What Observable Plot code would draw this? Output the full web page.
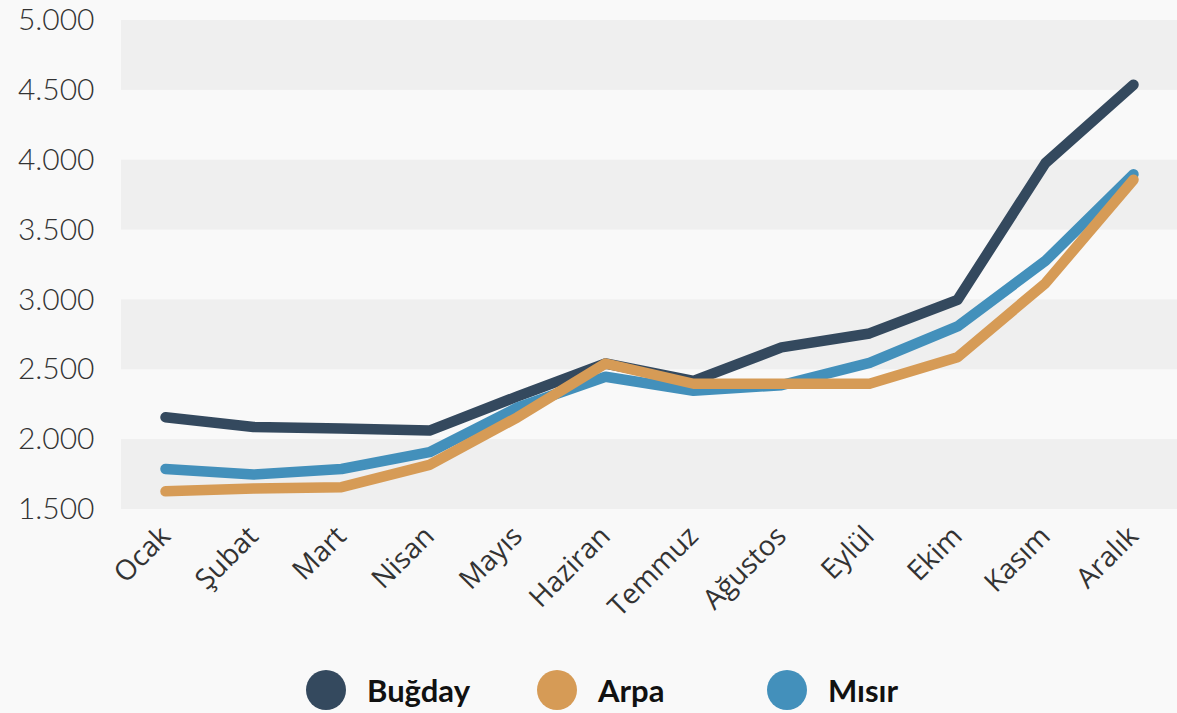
<!DOCTYPE html>
<html>
<head>
<meta charset="utf-8">
<script src="https://cdn.jsdelivr.net/npm/d3@7"></script>
<script src="https://cdn.jsdelivr.net/npm/@observablehq/plot@0.6"></script>
<style>
  html, body { margin: 0; padding: 0; background: #f9f9f9; }
  #chart { width: 1177px; height: 650px; }
  #legend { position: relative; width: 1177px; height: 63px; }
  .item { position: absolute; top: 20px; height: 40px; display: flex; align-items: center; }
  .dot { width: 40px; height: 40px; border-radius: 50%; }
  .lab { margin-left: 21px; font-family: Lato, sans-serif; font-weight: 700; font-size: 31px; color: #111; }
</style>
</head>
<body>
<div id="chart"></div>
<div id="legend"></div>
<script>
const months = ["Ocak","Şubat","Mart","Nisan","Mayıs","Haziran","Temmuz","Ağustos","Eylül","Ekim","Kasım","Aralık"];
const bugday = [2160,2090,2080,2065,2310,2545,2420,2660,2760,3000,3980,4540];
const arpa   = [1630,1650,1660,1820,2160,2545,2400,2400,2400,2590,3120,3860];
const misir  = [1790,1750,1790,1910,2230,2450,2350,2390,2550,2810,3280,3900];
const seriesNames = ["Buğday","Arpa","Mısır"];
const seriesColors = ["#34495e","#d69b56","#4390bb"];
const yTicks = [1500,2000,2500,3000,3500,4000,4500,5000];
const bandRanges = [[4500,5000],[3500,4000],[2500,3000],[1500,2000]];

const values = {"Buğday": bugday, "Arpa": arpa, "Mısır": misir};
const drawOrder = ["Buğday","Mısır","Arpa"];
const rows = [];
for (const s of drawOrder) months.forEach((m, i) => rows.push({series: s, month: m, value: values[s][i]}));
const bands = bandRanges.map(([a, b]) => ({y1: a, y2: b}));

const locale = d3.formatLocale({decimal: ",", thousands: ".", grouping: [3], currency: ["", "₺"]});
const fmt = locale.format(",d");

const chart = Plot.plot({
  width: 1177,
  height: 650,
  marginTop: 20,
  marginBottom: 141,
  marginLeft: 121,
  marginRight: 0,
  style: {background: "transparent", color: "#333"},
  x: {type: "point", domain: months, padding: 0.5, label: null},
  y: {domain: [1500, 5000], label: null},
  color: {domain: seriesNames, range: seriesColors},
  marks: [
    Plot.rect(bands, {y1: "y1", y2: "y2", fill: "#efefef"}),
    Plot.axisY({ticks: yTicks, tickSize: 0, tickPadding: 27, tickFormat: fmt, fontSize: 30, fontWeight: 300, fontFamily: "Lato, sans-serif", label: null, fill: "#333"}),
    Plot.axisX({tickRotate: -45, tickSize: 0, tickPadding: 22, fontSize: 28, fontFamily: "'Open Sans', sans-serif", label: null, fill: "#333"}),
    Plot.line(rows, {x: "month", y: "value", z: "series", stroke: "series", strokeWidth: 10.5, strokeLinecap: "round", strokeLinejoin: "round"})
  ]
});
document.getElementById("chart").appendChild(chart);

const legend = document.getElementById("legend");
const legendX = [306, 537, 767];
seriesNames.forEach((name, i) => {
  const it = document.createElement("div");
  it.className = "item";
  it.style.left = legendX[i] + "px";
  it.innerHTML = `<div class="dot" style="background:${seriesColors[i]}"></div><span class="lab">${name}</span>`;
  legend.appendChild(it);
});
</script>
</body>
</html>
